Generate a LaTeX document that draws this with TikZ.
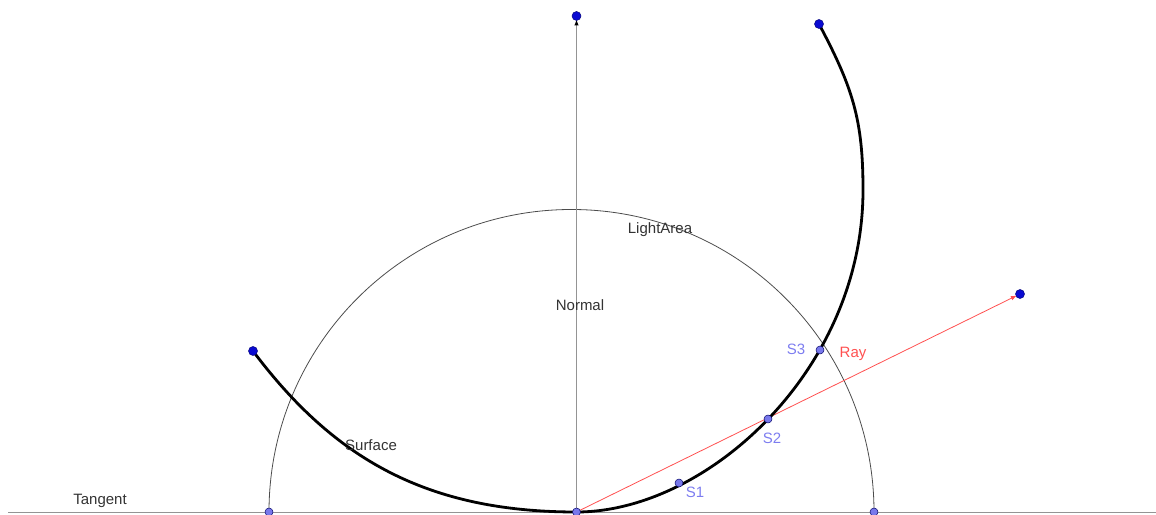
\documentclass[tikz,border=0pt]{standalone}
\usepackage{fontspec}
\setmainfont{Liberation Sans}
\usetikzlibrary{arrows.meta}
\definecolor{ptdark}{RGB}{10,10,210}
\definecolor{ptlight}{RGB}{120,120,235}
\definecolor{lbllight}{RGB}{125,125,240}
\definecolor{rayred}{RGB}{255,80,80}
\tikzset{
  enddot/.style={circle,fill=ptdark,draw=ptdark!60!black,line width=0.5pt,inner sep=0pt,minimum size=9pt},
  smalldot/.style={circle,fill=ptlight,draw=ptdark!50!black,line width=0.5pt,inner sep=0pt,minimum size=8pt},
  lbl/.style={inner sep=0pt,font=\fontsize{15}{18}\selectfont,text=black!80},
  slbl/.style={lbl,text=lbllight},
  thinline/.style={line width=1pt,draw=black!42},
  surf/.style={line width=2.8pt,draw=black},
}
\begin{document}
\begin{tikzpicture}[x=1pt,y=1pt]
\useasboundingbox (0,0) rectangle (1156,514);
% coordinates
\coordinate (TL) at (8,1.5);
\coordinate (TR) at (1156,1.5);
\coordinate (O) at (576.5,2);
\coordinate (Nend) at (576.5,498);
\coordinate (Rend) at (1020,220);
\coordinate (Lend) at (253,163);
\coordinate (Tend) at (819,490);
\coordinate (M) at (863,324);
\coordinate (A) at (269,2);
\coordinate (B) at (874,2);
\coordinate (S1) at (679,31);
\coordinate (S2) at (768,95);
\coordinate (S3) at (820,164);
% tangent line
\draw[thinline] (TL) -- (TR);
% light area semicircle
\draw[line width=0.8pt,draw=black!70] (A) arc[start angle=180,end angle=0,radius=302.5];
% normal
\draw[thinline,shorten >=3.5pt,-{Latex[length=6pt,width=4.5pt,black]}] (O) -- (Nend);
% ray
\draw[line width=0.8pt,rayred,shorten >=3.5pt,-{Latex[length=6pt,width=4.5pt]}] (O) -- (Rend);
% surface
\draw[surf,line cap=round] (Lend) .. controls (334,55) and (427,2) .. (O)
  .. controls (707,2) and (863,144) .. (M)
  .. controls (863,394) and (853,426) .. (Tend);
% points
\node[enddot] (nN) at (Nend) {};
\node[enddot] (nR) at (Rend) {};
\node[enddot] (nL) at (Lend) {};
\node[enddot] (nT) at (Tend) {};
\node[smalldot] (nA) at (A) {};
\node[smalldot] (nB) at (B) {};
\node[smalldot] (nO) at (O) {};
\node[smalldot] (nS1) at (S1) {};
\node[smalldot] (nS2) at (S2) {};
\node[smalldot] (nS3) at (S3) {};
% labels
\node[lbl] (lLight) at (660,284) {LightArea};
\node[lbl] (lNormal) at (580,209) {Normal};
\node[lbl] (lSurf) at (371,69) {Surface};
\node[lbl] (lTan) at (100,13) {Tangent};
\node[slbl] (lS1) at (695,22) {S1};
\node[slbl] (lS2) at (772,76) {S2};
\node[slbl] (lS3) at (796,165) {S3};
\node[lbl,text=rayred] (lRay) at (853,160) {Ray};
\end{tikzpicture}
\end{document}
